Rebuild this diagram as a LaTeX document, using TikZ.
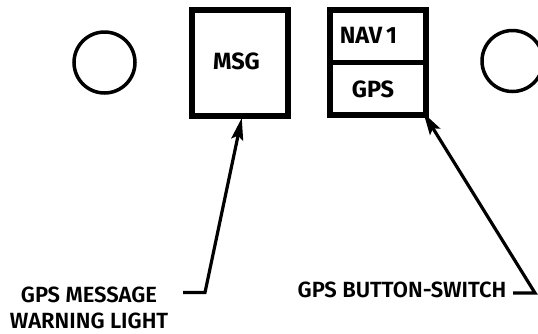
\documentclass[tikz,border=0pt]{standalone}
\usepackage{fontspec}
\setmainfont{Fira Sans}
\newfontfamily\callfont{Fira Sans SemiBold}
\usetikzlibrary{arrows.meta}

\tikzset{
  panel/.style={draw, line width=6bp, inner sep=0pt, minimum width=96.5bp, minimum height=106.5bp},
  lamp/.style={draw, circle, line width=3.5bp, inner sep=0pt, minimum size=61bp},
  keytext/.style={font=\fontsize{23.5bp}{23.5bp}\selectfont\bfseries, inner sep=0pt},
  calltext/.style={font=\fontsize{22bp}{26bp}\callfont, inner sep=0pt, align=center},
  leader/.style={line width=3.2bp, -{Stealth[length=22bp,width=12bp,inset=4bp]}}
}

\begin{document}
\begin{tikzpicture}[x=1bp,y=-1bp]
  \useasboundingbox (0,0) rectangle (538,333);
  % annunciator lamps either side
  \node[lamp] (lampl) at (104.5,62.5) {};
  \node[lamp] (lampr) at (512.5,61) {};
  % message light
  \node[panel] (msg) at (239.75,62.75) {};
  \node[keytext] (msgtxt) at (236.5,61.5) {MSG};
  % nav/gps switch
  \node[panel, minimum width=95.5bp, minimum height=105.5bp] (nav) at (377.75,62.25) {};
  \draw[line width=5bp] (nav.west |- 0,62.5) -- (nav.east |- 0,62.5);
  \node[keytext] (navtxt) at (368.5,35.5) {NAV\,1};
  \node[keytext] (gpstxt) at (373,89.5) {GPS};
  % callouts
  \node[calltext] (msgcall) at (89,307.5) {GPS MESSAGE\\WARNING LIGHT};
  \node[calltext] (gpscall) at (402,290) {GPS BUTTON-SWITCH};
  \coordinate (msgfoot) at (183,292.5);
  \coordinate (msgknee) at (205,292.5);
  \coordinate (gpsfoot) at (513,293);
  \coordinate (gpsknee) at (535,293);
  \draw[leader] (msgfoot) -- (msgknee) -- ([xshift=2bp,yshift=1bp]msg.south);
  \draw[leader] (gpsfoot) -- (gpsknee) -- ([xshift=-5bp,yshift=5bp]nav.south east);
\end{tikzpicture}
\end{document}
